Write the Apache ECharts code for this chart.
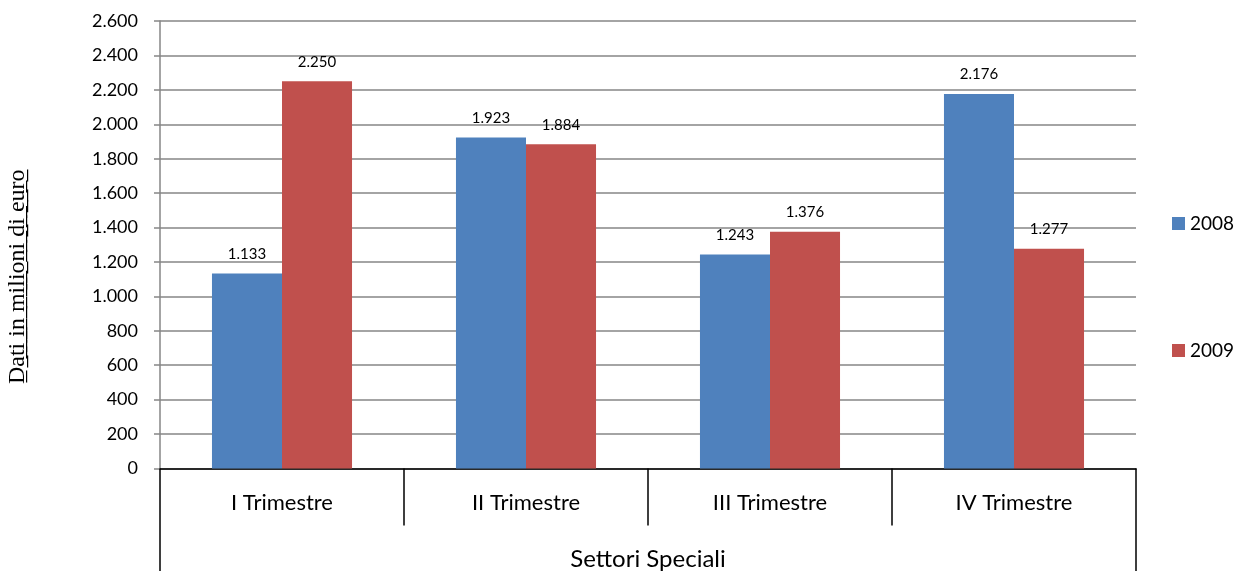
<!DOCTYPE html>
<html>
<head>
<meta charset="utf-8">
<script src="https://cdn.jsdelivr.net/npm/echarts@6/dist/echarts.min.js"></script>
<style>html,body{margin:0;padding:0;background:#fff;}#c{width:1239px;height:571px;}</style>
</head>
<body>
<div id="c"></div>
<script>
var categories = ['I Trimestre', 'II Trimestre', 'III Trimestre', 'IV Trimestre'];
var groupLabel = ['Settori Speciali'];
var values2008 = [1133, 1923, 1243, 2176];
var values2009 = [2250, 1884, 1376, 1277];
var seriesNames = ['2008', '2009'];
var yTicks = { min: 0, max: 2600, interval: 200 };
var yTitle = 'Dati in milioni di euro';

function fmt(v) {
  return String(Math.round(v)).replace(/\B(?=(\d{3})+(?!\d))/g, '.');
}
function underline(s) {
  return s.split('').map(function (ch) { return ch + '\u0332'; }).join('');
}

var chart = echarts.init(document.getElementById('c'), null, { renderer: 'canvas' });
var labelStyle = {
  show: true, position: 'top', distance: 12,
  color: '#000', fontFamily: 'Lato', fontSize: 15,
  formatter: function (p) { return fmt(p.value); }
};
chart.setOption({
  animation: false,
  backgroundColor: '#fff',
  textStyle: { fontFamily: 'Lato' },
  grid: { left: 160, right: 103, top: 21, bottom: 102.5, containLabel: false, outerBoundsMode: 'none' },
  legend: {
    orient: 'vertical', left: 1172, top: 214, padding: 0,
    itemWidth: 13, itemHeight: 13, itemGap: 108,
    icon: 'rect',
    textStyle: { fontFamily: 'Lato', fontSize: 19, color: '#000' },
    data: seriesNames
  },
  xAxis: [
    {
      type: 'category', data: categories, position: 'bottom',
      boundaryGap: true,
      axisLine: { show: true, lineStyle: { color: '#000', width: 1.5 } },
      axisTick: { show: true, length: 57, interval: 0, lineStyle: { color: '#000', width: 1.5 } },
      axisLabel: { margin: 23, interval: 0, color: '#000', fontFamily: 'Lato', fontSize: 22 },
      splitLine: { show: false }
    },
    {
      type: 'category', data: groupLabel, position: 'bottom', offset: 57,
      boundaryGap: true,
      axisLine: { show: false },
      axisTick: { show: true, length: 47, interval: 0, lineStyle: { color: '#000', width: 1.5 } },
      axisLabel: { margin: 22, color: '#000', fontFamily: 'Lato', fontSize: 24 },
      splitLine: { show: false }
    }
  ],
  yAxis: {
    type: 'value', min: yTicks.min, max: yTicks.max, interval: yTicks.interval,
    name: underline(yTitle), nameLocation: 'middle', nameGap: 130, nameRotate: 90,
    nameTextStyle: { fontFamily: 'Liberation Serif', fontSize: 24, color: '#000', padding: [0, 64, 0, 0] },
    axisLine: { show: true, lineStyle: { color: '#868686', width: 1.5 } },
    axisTick: { show: true, length: 6, lineStyle: { color: '#868686', width: 1.5 } },
    axisLabel: { margin: 22, color: '#000', fontFamily: 'Lato', fontSize: 18, formatter: fmt },
    splitLine: { show: true, lineStyle: { color: '#868686', width: 1.5 } }
  },
  series: [
    {
      name: seriesNames[0], type: 'bar', data: values2008,
      xAxisIndex: 0, barGap: '0%', barCategoryGap: '42.6%',
      itemStyle: { color: '#4F81BD' },
      label: labelStyle
    },
    {
      name: seriesNames[1], type: 'bar', data: values2009,
      xAxisIndex: 0, barGap: '0%', barCategoryGap: '42.6%',
      itemStyle: { color: '#C0504D' },
      label: labelStyle
    }
  ]
});
</script>
</body>
</html>
